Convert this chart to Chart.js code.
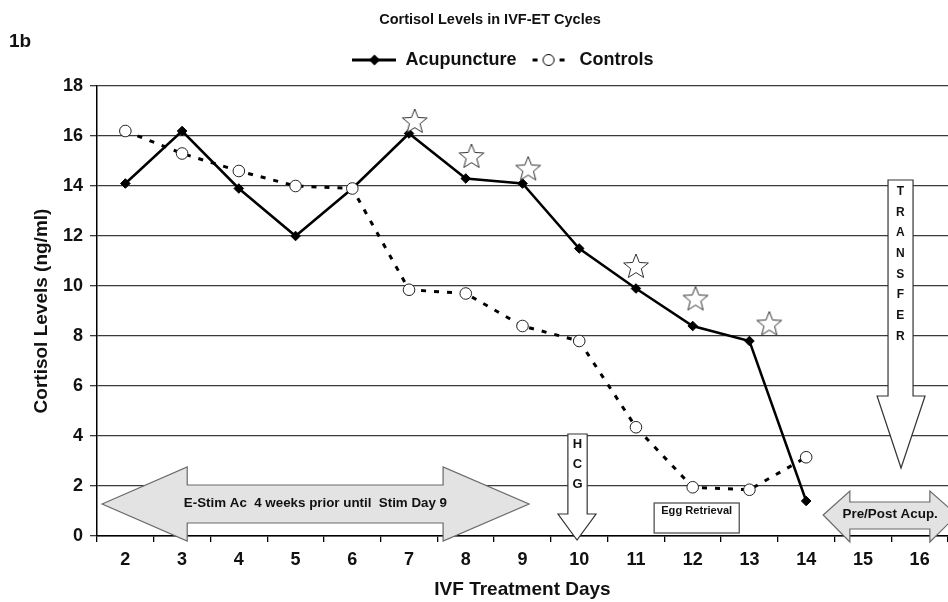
<!DOCTYPE html>
<html><head><meta charset="utf-8">
<script src="https://cdn.jsdelivr.net/npm/chart.js@4.4.1/dist/chart.umd.min.js"></script>
<style>html,body{margin:0;padding:0;background:#fff;overflow:hidden}#wrap{width:948px;height:602px;position:relative}</style>
</head><body><div id="wrap"><canvas id="c" width="948" height="602"></canvas></div>
<script>
// ---- data ----
const days = ['2','3','4','5','6','7','8','9','10','11','12','13','14','15','16'];
const acupuncture = [14.1, 16.2, 13.9, 12.0, 13.9, 16.1, 14.3, 14.1, 11.5, 9.9, 8.4, 7.8, 1.4, null, null];
const controls = [16.2, 15.3, 14.6, 14.0, 13.9, 9.85, 9.7, 8.4, 7.8, 4.35, 1.95, 1.85, 3.15, null, null];
const starDays = [7.1, 8.1, 9.1, 11.0, 12.05, 13.35];
const starLevels = [16.6, 15.2, 14.7, 10.8, 9.5, 8.5];
const yTicks = [0, 2, 4, 6, 8, 10, 12, 14, 16, 18];
const seriesNames = ['Acupuncture', 'Controls'];
const chartTitle = 'Cortisol Levels in IVF-ET Cycles';
const panelLabel = '1b';
const yTitle = 'Cortisol Levels (ng/ml)';
const xTitle = 'IVF Treatment Days';

const FONT = "'Liberation Sans', Arial, Helvetica, sans-serif";
const INK = '#111';

// ---- annotation geometry (in day / ng/ml units) ----
const notes = {
  estim: {tipL: 1.59, baseL: 3.09, baseR: 7.6, tipR: 9.115, mid: 1.28, headTop: 2.76, headBot: -0.2, shaftTop: 2.04, shaftBot: 0.52,
          text: 'E-Stim Ac  4 weeks prior until  Stim Day 9', tx: 5.35, ty: 1.28, tw: 4.64, size: 12},
  prepost: {tipL: 14.3, baseL: 14.77, baseR: 16.18, tipR: 16.66, mid: 0.84, headTop: 1.8, headBot: -0.24, shaftTop: 1.36, shaftBot: 0.28,
          text: 'Pre/Post Acup.', tx: 15.48, ty: 0.84, tw: 1.68, size: 12},
  hcg: {L: 9.80, R: 10.14, top: 4.08, headBase: 0.88, headL: 9.626, headR: 10.296, tipX: 9.961, tipY: -0.16,
        letters: ['H','C','G'], lx: 9.97, ly: [3.68, 2.88, 2.08], size: 13},
  transfer: {L: 15.443, R: 15.884, top: 14.24, headBase: 5.6, headL: 15.25, headR: 16.095, tipX: 15.672, tipY: 2.72,
        letters: ['T','R','A','N','S','F','E','R'], lx: 15.66, ly: [13.77, 12.94, 12.12, 11.29, 10.46, 9.64, 8.8, 7.98], size: 12},
  egg: {x0: 11.32, x1: 12.82, y0: 1.32, y1: 0.12, text: 'Egg Retrieval', tx: 12.07, ty: 1.0, tw: 1.25, size: 10}
};

// ---- point style images ----
function makeStar(){
  const c = document.createElement('canvas'); c.width = 30; c.height = 30;
  const g = c.getContext('2d');
  g.beginPath();
  for (let i = 0; i < 10; i++) {
    const r = i % 2 ? 5.6 : 13; const a = -Math.PI/2 + i*Math.PI/5;
    g.lineTo(15 + r*Math.cos(a), 16 + r*Math.sin(a));
  }
  g.closePath(); g.fillStyle = '#fff'; g.fill(); g.strokeStyle = '#333'; g.lineWidth = 1; g.stroke();
  return c;
}
function makeLegAcu(){
  const c = document.createElement('canvas'); c.width = 44; c.height = 14;
  const g = c.getContext('2d');
  g.strokeStyle = '#000'; g.lineWidth = 3; g.beginPath(); g.moveTo(0,7); g.lineTo(44,7); g.stroke();
  g.fillStyle = '#000'; g.beginPath(); g.moveTo(22,1.5); g.lineTo(27.5,7); g.lineTo(22,12.5); g.lineTo(16.5,7); g.closePath(); g.fill();
  return c;
}
function makeLegCtl(){
  const c = document.createElement('canvas'); c.width = 44; c.height = 14;
  const g = c.getContext('2d');
  g.fillStyle = '#000'; g.fillRect(6,5.5,5,3); g.fillRect(33,5.5,5,3);
  g.beginPath(); g.arc(22,7,5.5,0,Math.PI*2); g.fillStyle = '#fff'; g.fill(); g.strokeStyle = '#000'; g.lineWidth = 1; g.stroke();
  return c;
}
const starImg = makeStar(), legAcu = makeLegAcu(), legCtl = makeLegCtl();

// ---- annotation plugin ----
function fitText(ctx, str, cx, cy, size, targetW){
  ctx.save();
  ctx.font = 'bold ' + size + 'px ' + FONT;
  const m = ctx.measureText(str).width;
  const sx = targetW ? targetW / m : 1;
  ctx.translate(cx, cy); ctx.scale(sx, 1);
  ctx.textAlign = 'center'; ctx.textBaseline = 'middle'; ctx.fillStyle = INK;
  ctx.fillText(str, 0, 0);
  ctx.restore();
}
const annotate = {
  id: 'annotate',
  afterLayout(chart){
    if (chart.titleBlock){ chart.titleBlock.left += 16; chart.titleBlock.right += 16; }
    if (chart.legend){ chart.legend.left += 29; chart.legend.right += 29; }
  },
  beforeDatasetsDraw(chart){
    const ctx = chart.ctx, a = chart.chartArea, ys = chart.scales.y;
    const w = a.width / days.length;
    const X = d => a.left + (d - 1.5) * w;
    const Y = v => ys.getPixelForValue(v);
    const poly = (pts, fill, stroke) => {
      ctx.beginPath(); pts.forEach((p,i)=> i ? ctx.lineTo(X(p[0]),Y(p[1])) : ctx.moveTo(X(p[0]),Y(p[1])));
      ctx.closePath(); ctx.fillStyle = fill; ctx.fill(); ctx.lineWidth = 1.2; ctx.strokeStyle = stroke; ctx.stroke();
    };
    ctx.save();
    for (const k of ['estim','prepost']) {
      const n = notes[k];
      poly([[n.tipL,n.mid],[n.baseL,n.headTop],[n.baseL,n.shaftTop],[n.baseR,n.shaftTop],[n.baseR,n.headTop],[n.tipR,n.mid],
            [n.baseR,n.headBot],[n.baseR,n.shaftBot],[n.baseL,n.shaftBot],[n.baseL,n.headBot]], '#e3e3e3', '#6a6a6a');
      fitText(ctx, n.text, X(n.tx), Y(n.ty), n.size, n.tw * w);
    }
    for (const k of ['hcg','transfer']) {
      const n = notes[k];
      poly([[n.L,n.top],[n.R,n.top],[n.R,n.headBase],[n.headR,n.headBase],[n.tipX,n.tipY],[n.headL,n.headBase],[n.L,n.headBase]], '#fff', '#333');
      n.letters.forEach((ch,i)=> fitText(ctx, ch, X(n.lx), Y(n.ly[i]), n.size, 0));
    }
    const e = notes.egg;
    ctx.fillStyle = '#fff'; ctx.fillRect(X(e.x0), Y(e.y0), X(e.x1)-X(e.x0), Y(e.y1)-Y(e.y0));
    ctx.lineWidth = 1.2; ctx.strokeStyle = '#444'; ctx.strokeRect(X(e.x0), Y(e.y0), X(e.x1)-X(e.x0), Y(e.y1)-Y(e.y0));
    fitText(ctx, e.text, X(e.tx), Y(e.ty), e.size, e.tw * w);
    ctx.restore();
  },
  afterDraw(chart){
    const ctx = chart.ctx;
    ctx.save();
    ctx.font = 'bold 19px ' + FONT; ctx.fillStyle = INK; ctx.textAlign = 'left'; ctx.textBaseline = 'middle';
    ctx.fillText(panelLabel, 9, 42);
    ctx.restore();
  }
};

new Chart(document.getElementById('c'), {
  type: 'line',
  data: {
    labels: days,
    datasets: [
      {label: seriesNames[0], data: acupuncture, borderColor: '#000', borderWidth: 2.5, tension: 0,
       pointStyle: 'rectRot', pointRadius: 4.8, pointBackgroundColor: '#000', pointBorderColor: '#000', pointBorderWidth: 1, order: 1},
      {label: seriesNames[1], data: controls, borderColor: '#000', borderWidth: 3, borderDash: [5, 8], tension: 0,
       pointStyle: 'circle', pointRadius: 5.8, pointBackgroundColor: '#fff', pointBorderColor: '#222', pointBorderWidth: 1, order: 0},
      {label: 'stars', data: starDays.map((d,i)=>({x: d, y: starLevels[i]})), xAxisID: 'xs', showLine: false,
       pointStyle: starImg, pointRadius: 13, order: -1}
    ]
  },
  options: {
    responsive: false, animation: false, devicePixelRatio: 1,
    layout: {padding: 0, autoPadding: false},
    plugins: {
      tooltip: {enabled: false},
      title: {display: true, text: chartTitle, color: INK, font: {family: FONT, size: 14.5, weight: 'bold'}, padding: {top: 11.3, bottom: 12.3}},
      subtitle: {display: true, text: '', weight: 500, font: {size: 1}, padding: {top: 0, bottom: 5.8}},
      legend: {
        display: true, position: 'top',
        labels: {
          usePointStyle: true, pointStyleWidth: 44, padding: 10, color: INK,
          font: {family: FONT, size: 18, weight: 'bold'},
          filter: it => it.datasetIndex < 2,
          sort: (p, q) => p.datasetIndex - q.datasetIndex,
          generateLabels(chart){
            const items = Chart.defaults.plugins.legend.labels.generateLabels(chart);
            items.forEach(it => { if (it.datasetIndex === 0) it.pointStyle = legAcu; else if (it.datasetIndex === 1) it.pointStyle = legCtl; });
            return items;
          }
        }
      }
    },
    scales: {
      x: {
        type: 'category', offset: true,
        grid: {offset: true, drawOnChartArea: false, drawTicks: true, tickLength: 6, color: '#000', lineWidth: 1.3},
        border: {display: true, color: '#000', width: 1.5},
        ticks: {color: INK, font: {family: FONT, size: 18, weight: 'bold'}, padding: 7, maxRotation: 0, autoSkip: false},
        title: {display: true, text: xTitle, color: INK, font: {family: FONT, size: 19, weight: 'bold'}, padding: {top: 0, bottom: 1}},
        afterFit(s){ s.height = 66; }
      },
      xs: {type: 'linear', display: false, min: 1.5, max: 16.5},
      y: {
        min: 0, max: 18,
        afterBuildTicks(s){ s.ticks = yTicks.map(v => ({value: v})); },
        grid: {color: '#3a3a3a', lineWidth: 1.3, tickLength: 7, drawTicks: true},
        border: {display: true, color: '#000', width: 1.5},
        ticks: {color: INK, font: {family: FONT, size: 18, weight: 'bold'}, padding: 7},
        title: {display: true, text: yTitle, color: INK, font: {family: FONT, size: 19, weight: 'bold'}, padding: {top: 30.6, bottom: 0}},
        afterFit(s){ s.width = 97; }
      }
    }
  },
  plugins: [annotate]
});
</script></body></html>
